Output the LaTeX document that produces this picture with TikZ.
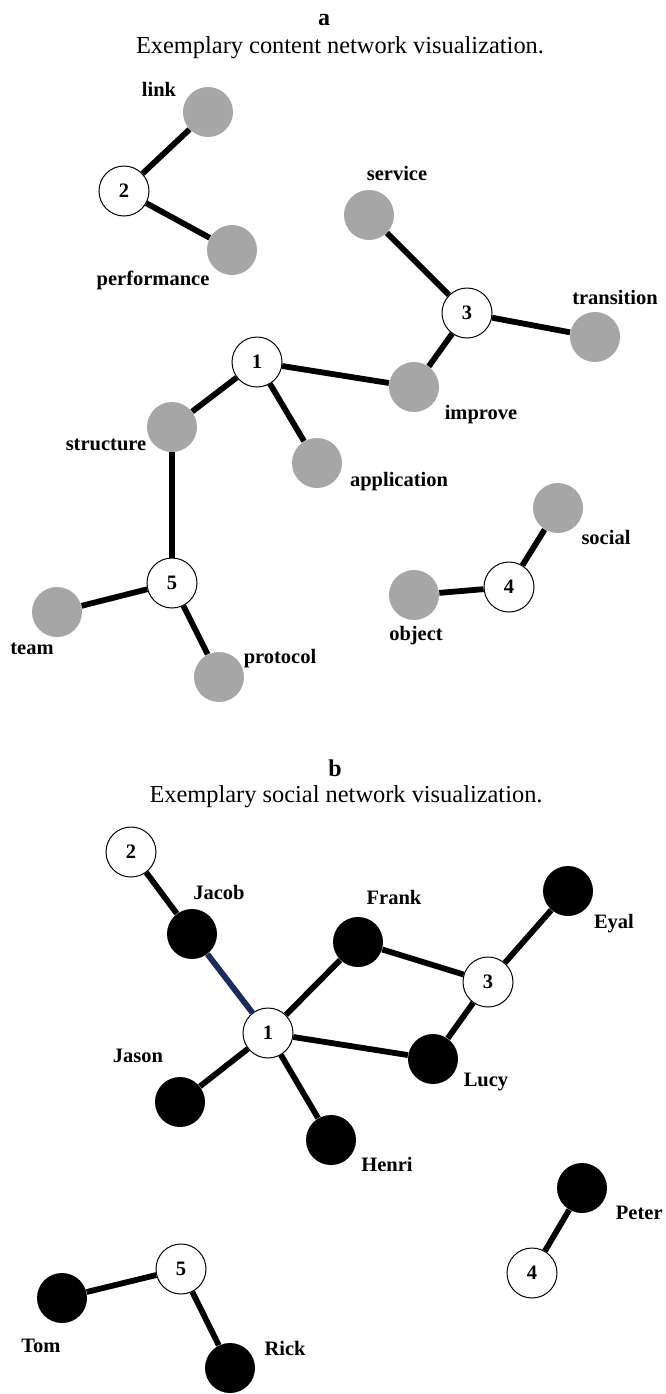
\documentclass[tikz,border=0pt]{standalone}
\usepackage{fontspec}
\setmainfont{Liberation Serif}
\usepackage{tikz}
\definecolor{termgrey}{HTML}{A6A6A6}
\definecolor{tieblue}{HTML}{1C2A5E}
\tikzset{%
	hollow/.style = {circle,draw,line width=0.5pt,fill=white,minimum size=25pt,inner sep=0,font=\fontsize{10.25}{12}\selectfont\bfseries},
	filled/.style = {circle,fill=termgrey,minimum size=25pt,inner sep=0},
	solid/.style = {circle,fill=black,minimum size=25pt,inner sep=0},
	tag/.style = {inner sep=0,font=\fontsize{10.25}{12}\selectfont\bfseries},
	tie/.style = {line width=2.9pt}%
}
\begin{document}
\begin{tikzpicture}[x=0.5pt,y=-0.5pt]
		\useasboundingbox (0,0) rectangle (665,1394);
		
		% a
		\node(ta)[tag,font=\fontsize{12}{14}\selectfont\bfseries]at(324,20){a};
		\node(sa)[inner sep=0,font=\fontsize{12.2}{14}\selectfont]at(340,48){Exemplary content network visualization.};
		
		\node(a1)[hollow]at(257,362){1};
		\node(a2)[hollow]at(124,191){2};
		\node(a3)[hollow]at(467,313){3};
		\node(a4)[hollow]at(509,587){4};
		\node(a5)[hollow]at(172,583){5};
		
		\node(link)[filled]at(208,112){};
		\node(performance)[filled]at(232,250){};
		\node(service)[filled]at(369,215){};
		\node(transition)[filled]at(595,337){};
		\node(improve)[filled]at(414,387){};
		\node(structure)[filled]at(172,427){};
		\node(application)[filled]at(317,463){};
		\node(social)[filled]at(558,508){};
		\node(object)[filled]at(414,595){};
		\node(team)[filled]at(57,612){};
		\node(protocol)[filled]at(219,677){};
		
		\node(link-t)[tag]at(159,89){link};
		\node(performance-t)[tag]at(153,280){performance};
		\node(service-t)[tag]at(397,173){service};
		\node(transition-t)[tag]at(615,297){transition};
		\node(improve-t)[tag]at(481,415){improve};
		\node(structure-t)[tag]at(106,445){structure};
		\node(application-t)[tag]at(399,482){application};
		\node(social-t)[tag]at(606,537){social};
		\node(object-t)[tag]at(416,636){object};
		\node(team-t)[tag]at(32,649){team};
		\node(protocol-t)[tag]at(280,659){protocol};
		
		\draw[tie](a2)--(link);
		\draw[tie](a2)--(performance);
		\draw[tie](a3)--(service);
		\draw[tie](a3)--(transition);
		\draw[tie](a3)--(improve);
		\draw[tie](a1)--(improve);
		\draw[tie](a1)--(structure);
		\draw[tie](a1)--(application);
		\draw[tie](structure)--(a5);
		\draw[tie](a5)--(team);
		\draw[tie](a5)--(protocol);
		\draw[tie](a4)--(social);
		\draw[tie](a4)--(object);
		
		% b
		\node(tb)[tag,font=\fontsize{12}{14}\selectfont\bfseries]at(335,768){b};
		\node(sb)[inner sep=0,font=\fontsize{12.2}{14}\selectfont]at(346,797){Exemplary social network visualization.};
		
		\node(b1)[hollow]at(268,1033){1};
		\node(b2)[hollow]at(131,852){2};
		\node(b3)[hollow]at(488,982){3};
		\node(b4)[hollow]at(532,1273){4};
		\node(b5)[hollow]at(181,1269){5};
		
		\node(jacob)[solid]at(192,934){};
		\node(frank)[solid]at(358,942){};
		\node(eyal)[solid]at(568,891){};
		\node(lucy)[solid]at(433,1059){};
		\node(jason)[solid]at(180,1102){};
		\node(henri)[solid]at(331,1140){};
		\node(peter)[solid]at(582,1188){};
		\node(tom)[solid]at(62,1298){};
		\node(rick)[solid]at(230,1368){};
		
		\node(jacob-t)[tag]at(219,892){Jacob};
		\node(frank-t)[tag]at(394,897){Frank};
		\node(eyal-t)[tag]at(614,924){Eyal};
		\node(lucy-t)[tag]at(486,1082){Lucy};
		\node(jason-t)[tag]at(138,1056){Jason};
		\node(henri-t)[tag]at(387,1164){Henri};
		\node(peter-t)[tag,anchor=east]at(663,1213){Peter};
		\node(tom-t)[tag]at(41,1346){Tom};
		\node(rick-t)[tag]at(285,1348){Rick};
		
		\draw[tie](b2)--(jacob);
		\draw[tie,tieblue](jacob)--(b1);
		\draw[tie](b1)--(frank);
		\draw[tie](frank)--(b3);
		\draw[tie](b3)--(eyal);
		\draw[tie](b1)--(lucy);
		\draw[tie](lucy)--(b3);
		\draw[tie](b1)--(jason);
		\draw[tie](b1)--(henri);
		\draw[tie](b4)--(peter);
		\draw[tie](b5)--(tom);
		\draw[tie](b5)--(rick);
\end{tikzpicture}
\end{document}
